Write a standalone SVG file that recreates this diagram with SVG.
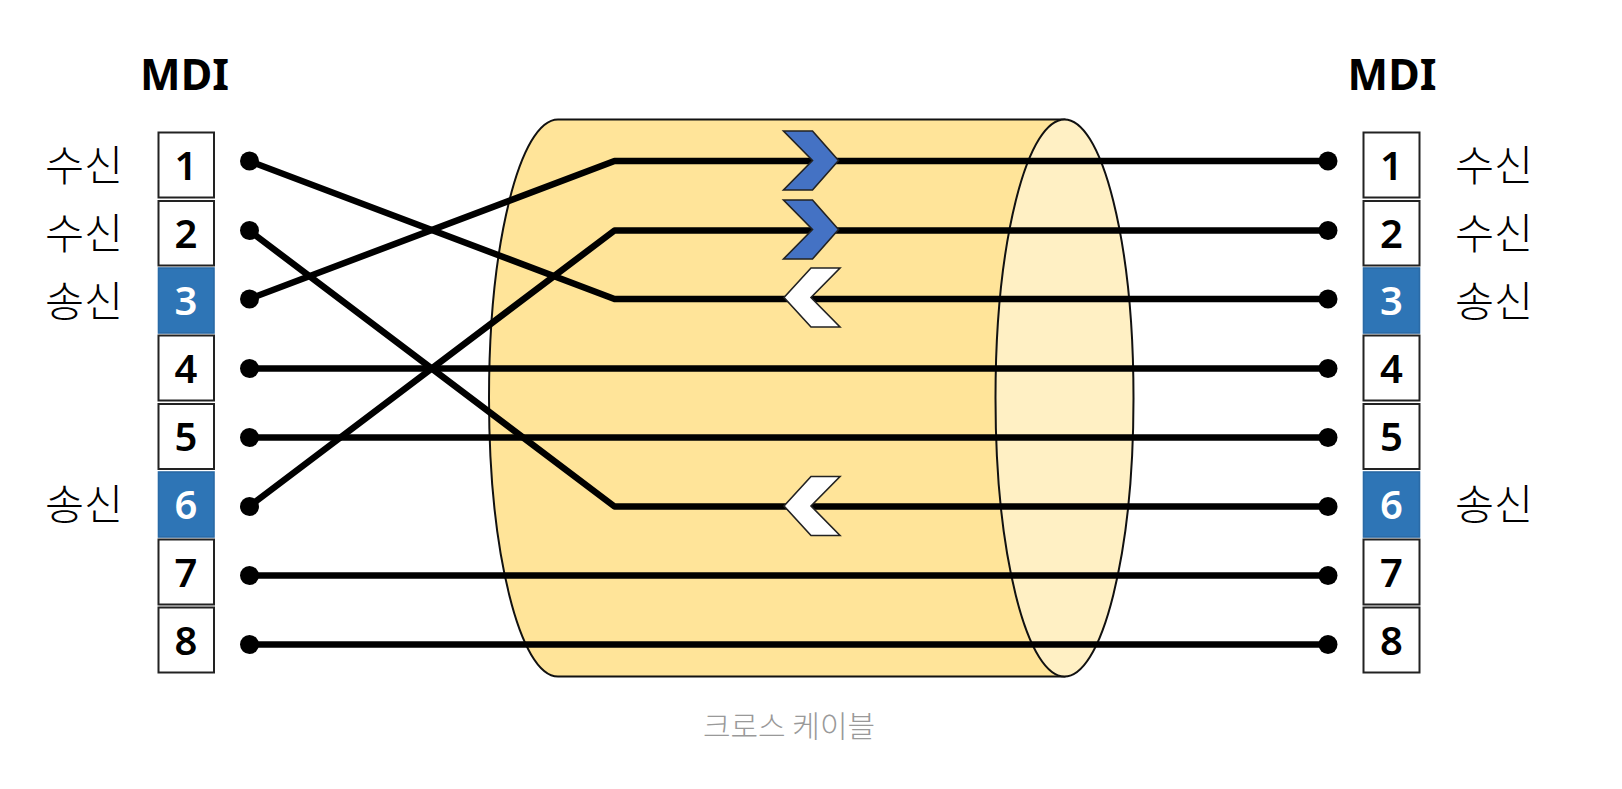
<svg xmlns="http://www.w3.org/2000/svg" width="1622" height="789" viewBox="0 0 1622 789">
<style>
text{font-family:"Noto Sans","Noto Sans CJK KR",sans-serif;text-anchor:middle}
.t{font-size:43px;font-weight:700;fill:#000}
.l{font-size:42.500px;font-weight:300;fill:#000;font-family:"Noto Sans CJK KR",sans-serif}
.n{font-size:40px;font-weight:600;fill:#000}
.b{fill:#fff;stroke:#222;stroke-width:2}
.h{fill:#2e75b6;stroke:#2a6aa6;stroke-width:1.600}
.w{fill:#fff}
.c{fill:none;stroke:#000;stroke-width:6.500;stroke-linejoin:round}
.d{fill:#000}
.cb{fill:#4472c4;stroke:#222;stroke-width:1.600}
.cw{fill:#fff;stroke:#222;stroke-width:1.600}
</style>
<g id="cable">
<path d="M558,119.500H1064.500V676.500H558C520,676.500 489,552 489,398C489,244 520,119.500 558,119.500Z" fill="#ffe499" stroke="#111" stroke-width="2"/>
<ellipse cx="1064.500" cy="398" rx="69" ry="278.500" fill="#fff0c4" stroke="#111" stroke-width="2"/>
</g>
<g id="connectors" transform="translate(0,1)">
<path class="c" d="M249,160L614.500,298H1328"/>
<path class="c" d="M249,229.500L614.500,505.500H1328"/>
<path class="c" d="M249,298L614.500,160H1328"/>
<path class="c" d="M249,505.500L614.500,229.500H1328"/>
<path class="c" d="M249,367.500H1328"/>
<path class="c" d="M249,436.500H1328"/>
<path class="c" d="M249,574.500H1328"/>
<path class="c" d="M249,643.500H1328"/>
<g class="d">
<circle cx="249.500" cy="160" r="9.500"/><circle cx="249.500" cy="229.500" r="9.500"/><circle cx="249.500" cy="298" r="9.500"/><circle cx="249.500" cy="367.500" r="9.500"/><circle cx="249.500" cy="436.500" r="9.500"/><circle cx="249.500" cy="505.500" r="9.500"/><circle cx="249.500" cy="574.500" r="9.500"/><circle cx="249.500" cy="643.500" r="9.500"/>
<circle cx="1328" cy="160" r="9.500"/><circle cx="1328" cy="229.500" r="9.500"/><circle cx="1328" cy="298" r="9.500"/><circle cx="1328" cy="367.500" r="9.500"/><circle cx="1328" cy="436.500" r="9.500"/><circle cx="1328" cy="505.500" r="9.500"/><circle cx="1328" cy="574.500" r="9.500"/><circle cx="1328" cy="643.500" r="9.500"/>
</g>
</g>
<g id="chevrons">
<polygon class="cb" points="783.500,131 812.500,131 838.500,160.500 812.500,190 783.500,190 812.500,160.500"/>
<polygon class="cb" points="783.500,200 812.500,200 838.500,229.500 812.500,259 783.500,259 812.500,229.500"/>
<polygon class="cw" points="840,268 811,268 784,297.500 811,327 840,327 811,297.500"/>
<polygon class="cw" points="840,476.500 811,476.500 784,506 811,535.500 840,535.500 811,506"/>
</g>
<g id="left-title"><text class="t" x="184.500" y="90">MDI</text></g>
<g id="right-title"><text class="t" x="1392" y="90">MDI</text></g>
<g id="left-1"><rect class="b" x="158.500" y="132.500" width="55.500" height="65"/><text class="n" x="186" y="180">1</text></g>
<g id="left-2"><rect class="b" x="158.500" y="201" width="55.500" height="64.500"/><text class="n" x="186" y="248">2</text></g>
<g id="left-3"><rect class="h" x="158.500" y="268" width="55.500" height="65"/><text class="n w" x="186" y="315">3</text></g>
<g id="left-4"><rect class="b" x="158.500" y="335.500" width="55.500" height="65"/><text class="n" x="186" y="383">4</text></g>
<g id="left-5"><rect class="b" x="158.500" y="404" width="55.500" height="65"/><text class="n" x="186" y="451">5</text></g>
<g id="left-6"><rect class="h" x="158.500" y="472" width="55.500" height="65"/><text class="n w" x="186" y="519">6</text></g>
<g id="left-7"><rect class="b" x="158.500" y="539.500" width="55.500" height="65"/><text class="n" x="186" y="587">7</text></g>
<g id="left-8"><rect class="b" x="158.500" y="607.500" width="55.500" height="65"/><text class="n" x="186" y="655">8</text></g>
<g id="right-1"><rect class="b" x="1363.500" y="132.500" width="56" height="65"/><text class="n" x="1391.500" y="180">1</text></g>
<g id="right-2"><rect class="b" x="1363.500" y="201" width="56" height="64.500"/><text class="n" x="1391.500" y="248">2</text></g>
<g id="right-3"><rect class="h" x="1363.500" y="268" width="56" height="65"/><text class="n w" x="1391.500" y="315">3</text></g>
<g id="right-4"><rect class="b" x="1363.500" y="335.500" width="56" height="65"/><text class="n" x="1391.500" y="383">4</text></g>
<g id="right-5"><rect class="b" x="1363.500" y="404" width="56" height="65"/><text class="n" x="1391.500" y="451">5</text></g>
<g id="right-6"><rect class="h" x="1363.500" y="472" width="56" height="65"/><text class="n w" x="1391.500" y="519">6</text></g>
<g id="right-7"><rect class="b" x="1363.500" y="539.500" width="56" height="65"/><text class="n" x="1391.500" y="587">7</text></g>
<g id="right-8"><rect class="b" x="1363.500" y="607.500" width="56" height="65"/><text class="n" x="1391.500" y="655">8</text></g>
<g id="labels">
<text class="l" x="84" y="180.500">수신</text>
<text class="l" x="84" y="248.500">수신</text>
<text class="l" x="84" y="317">송신</text>
<text class="l" x="84" y="520">송신</text>
<text class="l" x="1494" y="180.500">수신</text>
<text class="l" x="1494" y="248.500">수신</text>
<text class="l" x="1494" y="317">송신</text>
<text class="l" x="1494" y="520">송신</text>
</g>
<g id="caption"><text x="789" y="737" font-size="30" font-weight="300" fill="#999" style="font-family:'Noto Sans CJK KR',sans-serif">크로스 케이블</text></g>
</svg>
